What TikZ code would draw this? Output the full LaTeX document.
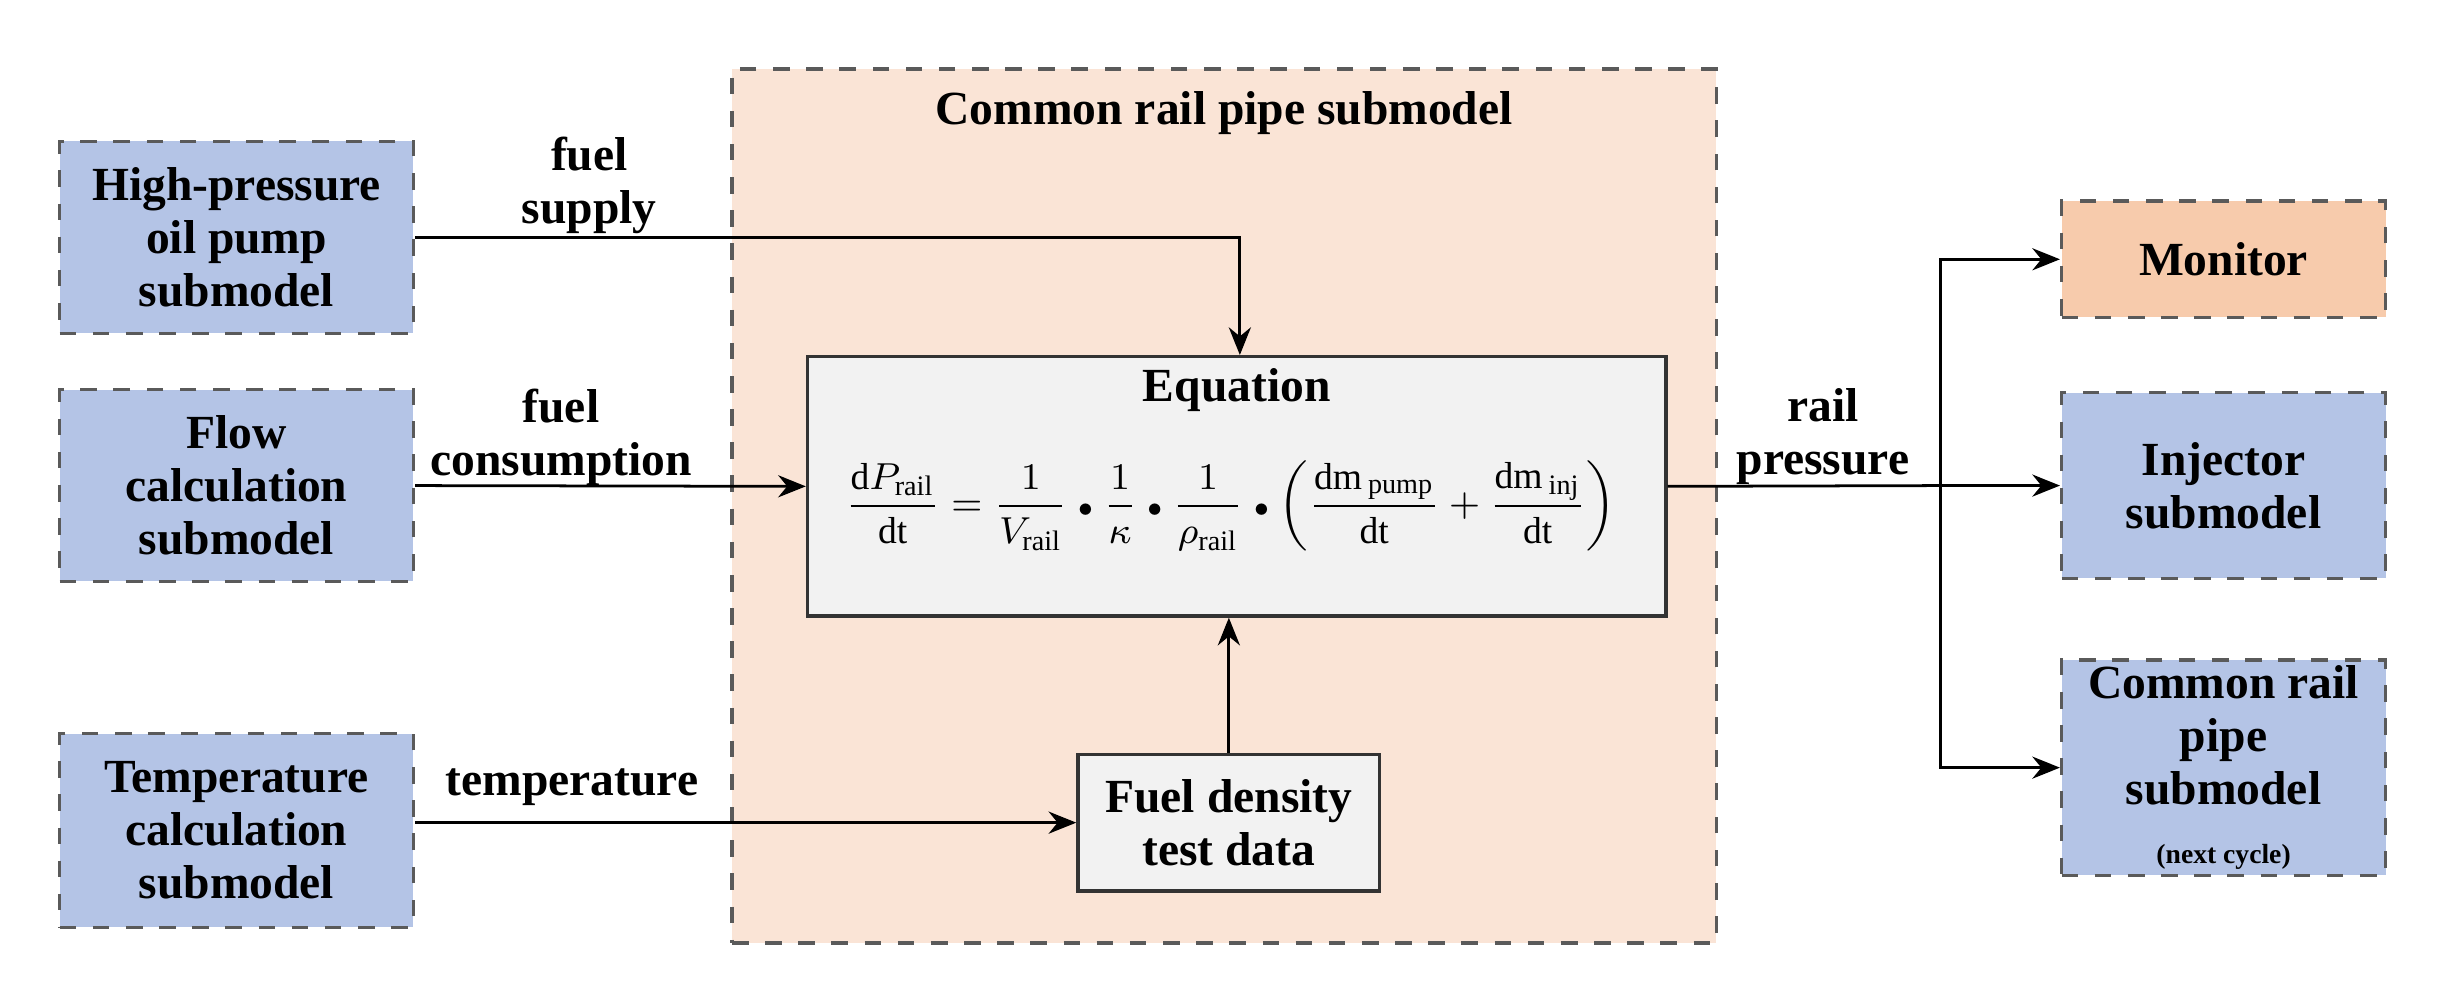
\documentclass[tikz,border=0pt]{standalone}
\usepackage{fontspec}
\setmainfont{Liberation Serif}
\usepackage{amsmath}
\usetikzlibrary{arrows.meta}
\definecolor{peach}{RGB}{250,228,214}
\definecolor{subblue}{RGB}{180,196,230}
\definecolor{monorange}{RGB}{247,203,172}
\definecolor{eqgray}{RGB}{242,242,242}
\definecolor{dashgray}{RGB}{90,90,90}
\newcommand{\dotop}{\mathbin{\scriptscriptstyle\bullet}}

\begin{document}
\begin{tikzpicture}[x=0.01cm,y=-0.01cm,
	every node/.style={font=\fontsize{8.6}{9.6}\selectfont\bfseries, align=center},
	sub/.style={draw=dashgray, dashed, line width=0.6pt, fill=subblue, inner sep=0pt},
	eqbox/.style={draw=black!80, line width=0.6pt, fill=eqgray, inner sep=0pt},
	lbl/.style={inner sep=1pt},
	flow/.style={-{Stealth[length=5pt,width=4pt]}, line width=0.5pt}]
	\useasboundingbox (0,0) rectangle (1568,630);
	% common rail pipe submodel frame
	\node [draw=dashgray, dashed, line width=0.6pt, fill=peach, minimum width=6.26cm, minimum height=5.56cm] (rail) at (779,322) {};
	\node (railtitle) at (779,72) {Common rail pipe submodel};

	\node [sub, minimum width=2.25cm, minimum height=1.22cm] (pump) at (150.5,151) {High-pressure\\oil pump\\submodel};
	\node [sub, minimum width=2.25cm, minimum height=1.22cm] (flowcalc) at (150.5,309) {Flow\\calculation\\submodel};
	\node [sub, minimum width=2.25cm, minimum height=1.23cm] (tempcalc) at (150.5,528.5) {Temperature\\calculation\\submodel};

	\node [eqbox, minimum width=5.46cm, minimum height=1.65cm] (eq) at (787,309.5) {};
	\node (eqtitle) at (787,248) {Equation};
	\node [font=\fontsize{8}{9}\selectfont, scale=0.85] (formula) at (783,322) {$\dfrac{\mathrm{d}P_{\mathrm{rail}}}{\mathrm{dt}}=\dfrac{1}{V_{\mathrm{rail}}}\dotop\dfrac{1}{\kappa}\dotop\dfrac{1}{\rho_{\mathrm{rail}}}\dotop\left(\dfrac{\mathrm{dm}_{\,\mathrm{pump}}}{\mathrm{dt}}+\dfrac{\mathrm{dm}_{\,\mathrm{inj}}}{\mathrm{dt}}\right)$};
	\node [eqbox, minimum width=1.92cm, minimum height=0.87cm] (density) at (782,523.5) {Fuel density\\test data};

	\node [sub, fill=monorange, minimum width=2.06cm, minimum height=0.74cm] (monitor) at (1415,165) {Monitor};
	\node [sub, minimum width=2.06cm, minimum height=1.18cm] (injector) at (1415,309) {Injector\\submodel};
	\node [sub, minimum width=2.06cm, minimum height=1.37cm] (nextrail) at (1415,488.5) {Common rail\\pipe\\submodel\\[1pt]{\fontsize{5}{6}\selectfont(next cycle)}};

	\coordinate (bend) at (789,151);
	\coordinate (split) at (1235,309);
	\draw [flow] (pump.east |- bend) -- (bend) -- (eq.north -| bend);
	\draw [flow] (flowcalc.east) -- (eq.west);
	\draw [flow] (tempcalc.east |- density) -- (density.west);
	\draw [flow] (density.north) -- (eq.south -| density.north);
	\draw [line width=0.5pt] (eq.east) -- (split);
	\draw [flow] (split) -- (injector.west);
	\draw [flow] (split) |- (monitor.west);
	\draw [flow] (split) |- (nextrail.west);

	\node [lbl] (supplylbl) at (375,118) {fuel\\supply};
	\node [lbl] (consumelbl) at (357,278) {fuel\\consumption};
	\node [lbl] (templbl) at (364,501) {temperature};
	\node [lbl] (pressurelbl) at (1160,278) {rail\\pressure};
\end{tikzpicture}
\end{document}
